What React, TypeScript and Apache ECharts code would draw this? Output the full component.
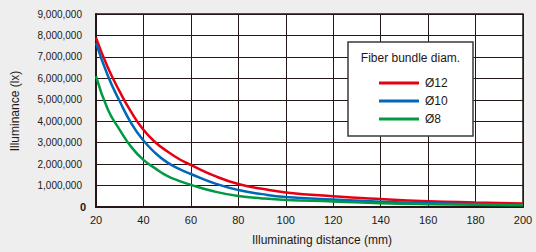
import React, { useEffect, useRef } from "react";
import * as echarts from "echarts";

const distances = [20, 25, 30, 35, 40, 45, 50, 55, 60, 70, 80, 90, 100, 120, 140, 160, 180, 200];
const d12 = [7900000, 6500000, 5380000, 4400000, 3600000, 3020000, 2600000, 2240000, 1960000, 1450000, 1070000, 850000, 680000, 500000, 370000, 270000, 210000, 160000];
const d10 = [7650000, 6120000, 4930000, 3880000, 3100000, 2520000, 2080000, 1780000, 1540000, 1100000, 790000, 600000, 470000, 350000, 250000, 180000, 140000, 100000];
const d8 = [6100000, 4550000, 3600000, 2780000, 2200000, 1800000, 1450000, 1220000, 1030000, 720000, 510000, 400000, 330000, 260000, 180000, 130000, 100000, 80000];
const seriesNames = ["Ø12", "Ø10", "Ø8"];
const seriesColors = ["#e60012", "#0068b7", "#009944"];
const legendTitle = "Fiber bundle diam.";
const xName = "Illuminating distance (mm)";
const yName = "Illuminance (lx)";

export default function App() {
  const ref = useRef<HTMLDivElement>(null);
  useEffect(() => {
    if (!ref.current) return;
    const chart = echarts.init(ref.current, null, { renderer: "svg" });
    const all = [d12, d10, d8];
    const font = "Liberation Sans, Arial, sans-serif";
    chart.setOption({
      animation: false,
      backgroundColor: "#eeeeee",
      textStyle: { fontFamily: font },
      grid: { left: 96, right: 13, top: 14, bottom: 45, show: true, backgroundColor: "#ffffff", borderColor: "#231815", borderWidth: 1.5 },
      legend: {
        orient: "vertical",
        left: 374,
        top: 72,
        z: 30,
        itemWidth: 40,
        itemHeight: 3,
        itemGap: 6,
        icon: "rect",
        textStyle: { fontSize: 12, color: "#231815", fontFamily: font, padding: [0, 0, 0, 1] },
        data: seriesNames,
      },
      xAxis: {
        type: "value",
        min: 20,
        max: 200,
        interval: 20,
        axisLine: { show: true, lineStyle: { color: "#231815", width: 2 } },
        axisTick: { show: false },
        splitLine: { show: true, lineStyle: { color: "#231815", width: 1 } },
        axisLabel: { fontSize: 11, color: "#231815", margin: 7, fontFamily: font },
      },
      yAxis: {
        type: "value",
        min: 0,
        max: 9000000,
        interval: 1000000,
        axisLine: { show: true, lineStyle: { color: "#231815", width: 2 } },
        axisTick: { show: false },
        splitLine: { show: true, lineStyle: { color: "#231815", width: 1 } },
        axisLabel: {
          fontSize: 10,
          color: "#231815",
          margin: 14,
          fontFamily: font,
          formatter: (v: number) => (v === 0 ? "{b|0}" : v.toLocaleString("en-US")),
          rich: { b: { fontWeight: "bold", fontSize: 11, color: "#231815", padding: [0, -4, 0, 0] } },
        },
      },
      graphic: [
        { type: "rect", shape: { x: 348, y: 42, width: 125, height: 94 }, style: { fill: "#ffffff", stroke: "#3a3a3a", lineWidth: 1.5 }, z: 10 },
        { type: "text", x: 410.5, y: 58, style: { text: legendTitle, fontSize: 12, fill: "#231815", align: "center", verticalAlign: "middle", fontFamily: font }, z: 11 },
        { type: "text", x: 322, y: 240, style: { text: xName, fontSize: 12, fill: "#231815", align: "center", verticalAlign: "middle", fontFamily: font } },
        { type: "text", x: 15, y: 111, rotation: Math.PI / 2, style: { text: yName, fontSize: 12, fill: "#231815", align: "center", verticalAlign: "middle", fontFamily: font } },
      ],
      series: seriesNames.map((n, i) => ({
        name: n,
        type: "line",
        smooth: 0.5,
        showSymbol: false,
        symbol: "none",
        color: seriesColors[i],
        lineStyle: { width: 2.5, color: seriesColors[i] },
        data: distances.map((d, j) => [d, all[i][j]]),
        z: 3,
      })),
    });
    return () => chart.dispose();
  }, []);
  return <div ref={ref} style={{ position: "fixed", left: 0, top: 0, width: 536, height: 252 }} />;
}
